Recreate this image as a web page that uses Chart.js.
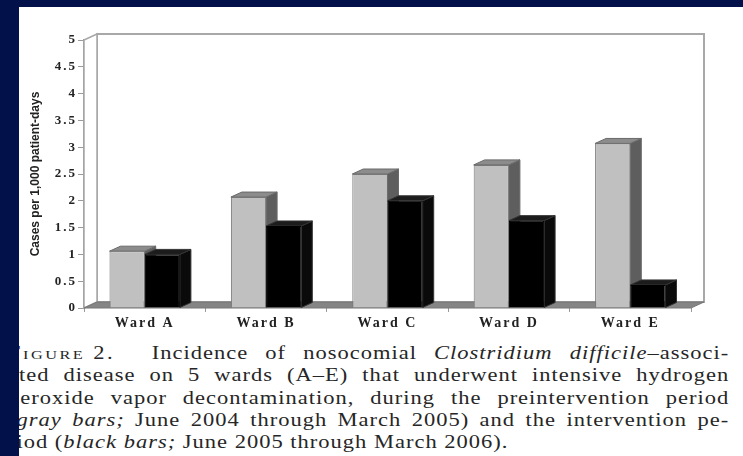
<!DOCTYPE html>
<html>
<head>
<meta charset="utf-8">
<script src="https://cdn.jsdelivr.net/npm/chart.js@4"></script>
<style>
  body { margin: 0; background: #02114a; width: 743px; height: 456px; overflow: hidden; }
  #panel { position: absolute; left: 19px; top: 7px; width: 724px; height: 449px; background: #fff; overflow: hidden; }
  #wrap { position: absolute; left: 0; top: 0; width: 724px; height: 330px; }
  #caption { position: absolute; left: -11px; top: 335px; width: 577px; font: 18px 'Liberation Serif', serif; letter-spacing: 0.8px; color: #262626; transform: scaleX(1.25); transform-origin: 0 0; }
  .line { height: 22.3px; line-height: 22px; text-align: justify; text-align-last: justify; white-space: nowrap; }
  .line.last { text-align-last: left; }
  .fig { display: inline-block; width: 115px; text-align: left; font-variant: small-caps; letter-spacing: 2px; text-align-last: left; }
</style>
</head>
<body>
<div id="panel">
  <div id="wrap"><canvas id="wardChart" width="724" height="330"></canvas></div>
  <div id="caption">
    <div class="line"><span class="fig">Figure 2.</span>Incidence of nosocomial <i>Clostridium difficile</i>–associ-</div>
    <div class="line">ated disease on 5 wards (A–E) that underwent intensive hydrogen</div>
    <div class="line">peroxide vapor decontamination, during the preintervention period</div>
    <div class="line">(<i>gray bars;</i> June 2004 through March 2005) and the intervention pe-</div>
    <div class="line last">riod (<i>black bars;</i> June 2005 through March 2006).</div>
  </div>
</div>
<script>
// Wards and incidence values (cases per 1,000 patient-days)
const wards = ['Ward A', 'Ward B', 'Ward C', 'Ward D', 'Ward E'];
const preValues = [1.06, 2.07, 2.5, 2.67, 3.07];   // gray bars, preintervention
const postValues = [1.0, 1.53, 2.0, 1.63, 0.43];   // black bars, intervention
const yMin = 0;
const yMax = 5;
const yStep = 0.5;

const barDepth = { dx: 11, dy: 5 };
const wallDepth = { dx: 13, dy: 6 };
const faceColors = [
  { side: '#5e5e5e', top: '#8c8c8c', edge: '#6a6a6a' },
  { side: '#0a0a0a', top: '#1c1c1c', edge: '#333333' }
];

function poly(ctx, pts, fill, stroke, lw) {
  ctx.beginPath();
  ctx.moveTo(pts[0][0], pts[0][1]);
  for (let i = 1; i < pts.length; i++) ctx.lineTo(pts[i][0], pts[i][1]);
  ctx.closePath();
  if (fill) { ctx.fillStyle = fill; ctx.fill(); }
  if (stroke) { ctx.strokeStyle = stroke; ctx.lineWidth = lw || 1; ctx.stroke(); }
}

// draws walls, floor and the side / top faces of the bars
const threeD = {
  id: 'threeD',
  beforeDatasetsDraw(chart) {
    const ctx = chart.ctx;
    const a = chart.chartArea;
    const wx = wallDepth.dx, wy = wallDepth.dy;
    const axisX = chart.scales.y.right;
    ctx.save();
    // back wall
    poly(ctx, [[axisX + wx, a.top - wy], [a.right + wx, a.top - wy], [a.right + wx, a.bottom - wy], [axisX + wx, a.bottom - wy]], '#ffffff', '#a8a8a8', 2);
    // left wall
    poly(ctx, [[axisX, a.top], [axisX + wx, a.top - wy], [axisX + wx, a.bottom - wy], [axisX, a.bottom]], '#ffffff', '#a8a8a8', 1.5);
    // floor
    poly(ctx, [[axisX, a.bottom], [a.right, a.bottom], [a.right + wx, a.bottom - wy], [axisX + wx, a.bottom - wy]], '#858585', '#777777', 1);
    // bar sides and tops
    const m0 = chart.getDatasetMeta(0).data;
    const m1 = chart.getDatasetMeta(1).data;
    for (let i = 0; i < m0.length; i++) {
      [m0[i], m1[i]].forEach((bar, k) => {
        const p = bar.getProps(['x', 'y', 'base', 'width'], true);
        const x0 = p.x - p.width / 2, x1 = p.x + p.width / 2;
        const c = faceColors[k];
        poly(ctx, [[x1, p.y], [x1 + barDepth.dx, p.y - barDepth.dy], [x1 + barDepth.dx, p.base - barDepth.dy], [x1, p.base]], c.side, c.edge, 1);
        poly(ctx, [[x0, p.y], [x0 + barDepth.dx, p.y - barDepth.dy], [x1 + barDepth.dx, p.y - barDepth.dy], [x1, p.y]], c.top, c.edge, 1);
      });
    }
    ctx.restore();
  },
  // tick labels (z: 1) are drawn after this, so they get the wider spacing
  afterDatasetsDraw(chart) {
    chart.ctx.letterSpacing = '2px';
  },
  afterDraw(chart) {
    chart.ctx.letterSpacing = '0px';
  }
};

const tickFont = { family: "'Liberation Serif', serif", size: 13, weight: 'bold' };

const ctx = document.getElementById('wardChart').getContext('2d');
const wardChart = new Chart(ctx, {
  type: 'bar',
  data: {
    labels: wards,
    datasets: [{
      label: 'Preintervention',
      data: preValues,
      backgroundColor: '#c0c0c0',
      borderColor: '#777777',
      borderWidth: 1,
      categoryPercentage: 0.58,
      barPercentage: 1
    }, {
      label: 'Intervention',
      data: postValues,
      backgroundColor: '#000000',
      borderColor: '#000000',
      borderWidth: 1,
      categoryPercentage: 0.58,
      barPercentage: 1
    }]
  },
  options: {
    responsive: false,
    devicePixelRatio: 1,
    animation: false,
    layout: { padding: { top: 33, right: 52, left: 0, bottom: 0 } },
    plugins: {
      legend: { display: false },
      tooltip: { enabled: false }
    },
    scales: {
      x: {
        grid: { display: true, drawOnChartArea: false, offset: true, tickLength: 4, color: '#9a9a9a' },
        border: { display: false },
        ticks: {
          z: 1,
          color: '#222',
          padding: 3,
          font: { family: tickFont.family, size: 14, weight: 'bold' }
        },
        afterFit(scale) { scale.height = 29; }
      },
      y: {
        min: yMin,
        max: yMax,
        grid: { display: true, drawOnChartArea: false, tickLength: 6, color: '#9a9a9a' },
        border: { display: true, color: '#9a9a9a', width: 2 },
        ticks: {
          z: 1,
          stepSize: yStep,
          color: '#222',
          padding: 1,
          font: tickFont,
          callback: (v) => String(v)
        },
        title: {
          display: true,
          text: 'Cases per 1,000 patient-days',
          color: '#222',
          padding: { top: 9, bottom: 0 },
          font: { family: "'Liberation Sans Narrow', 'Liberation Sans', sans-serif", size: 12, weight: 'bold' }
        },
        afterFit(scale) { scale.width = 65; }
      }
    }
  },
  plugins: [threeD]
});
</script>
</body>
</html>
